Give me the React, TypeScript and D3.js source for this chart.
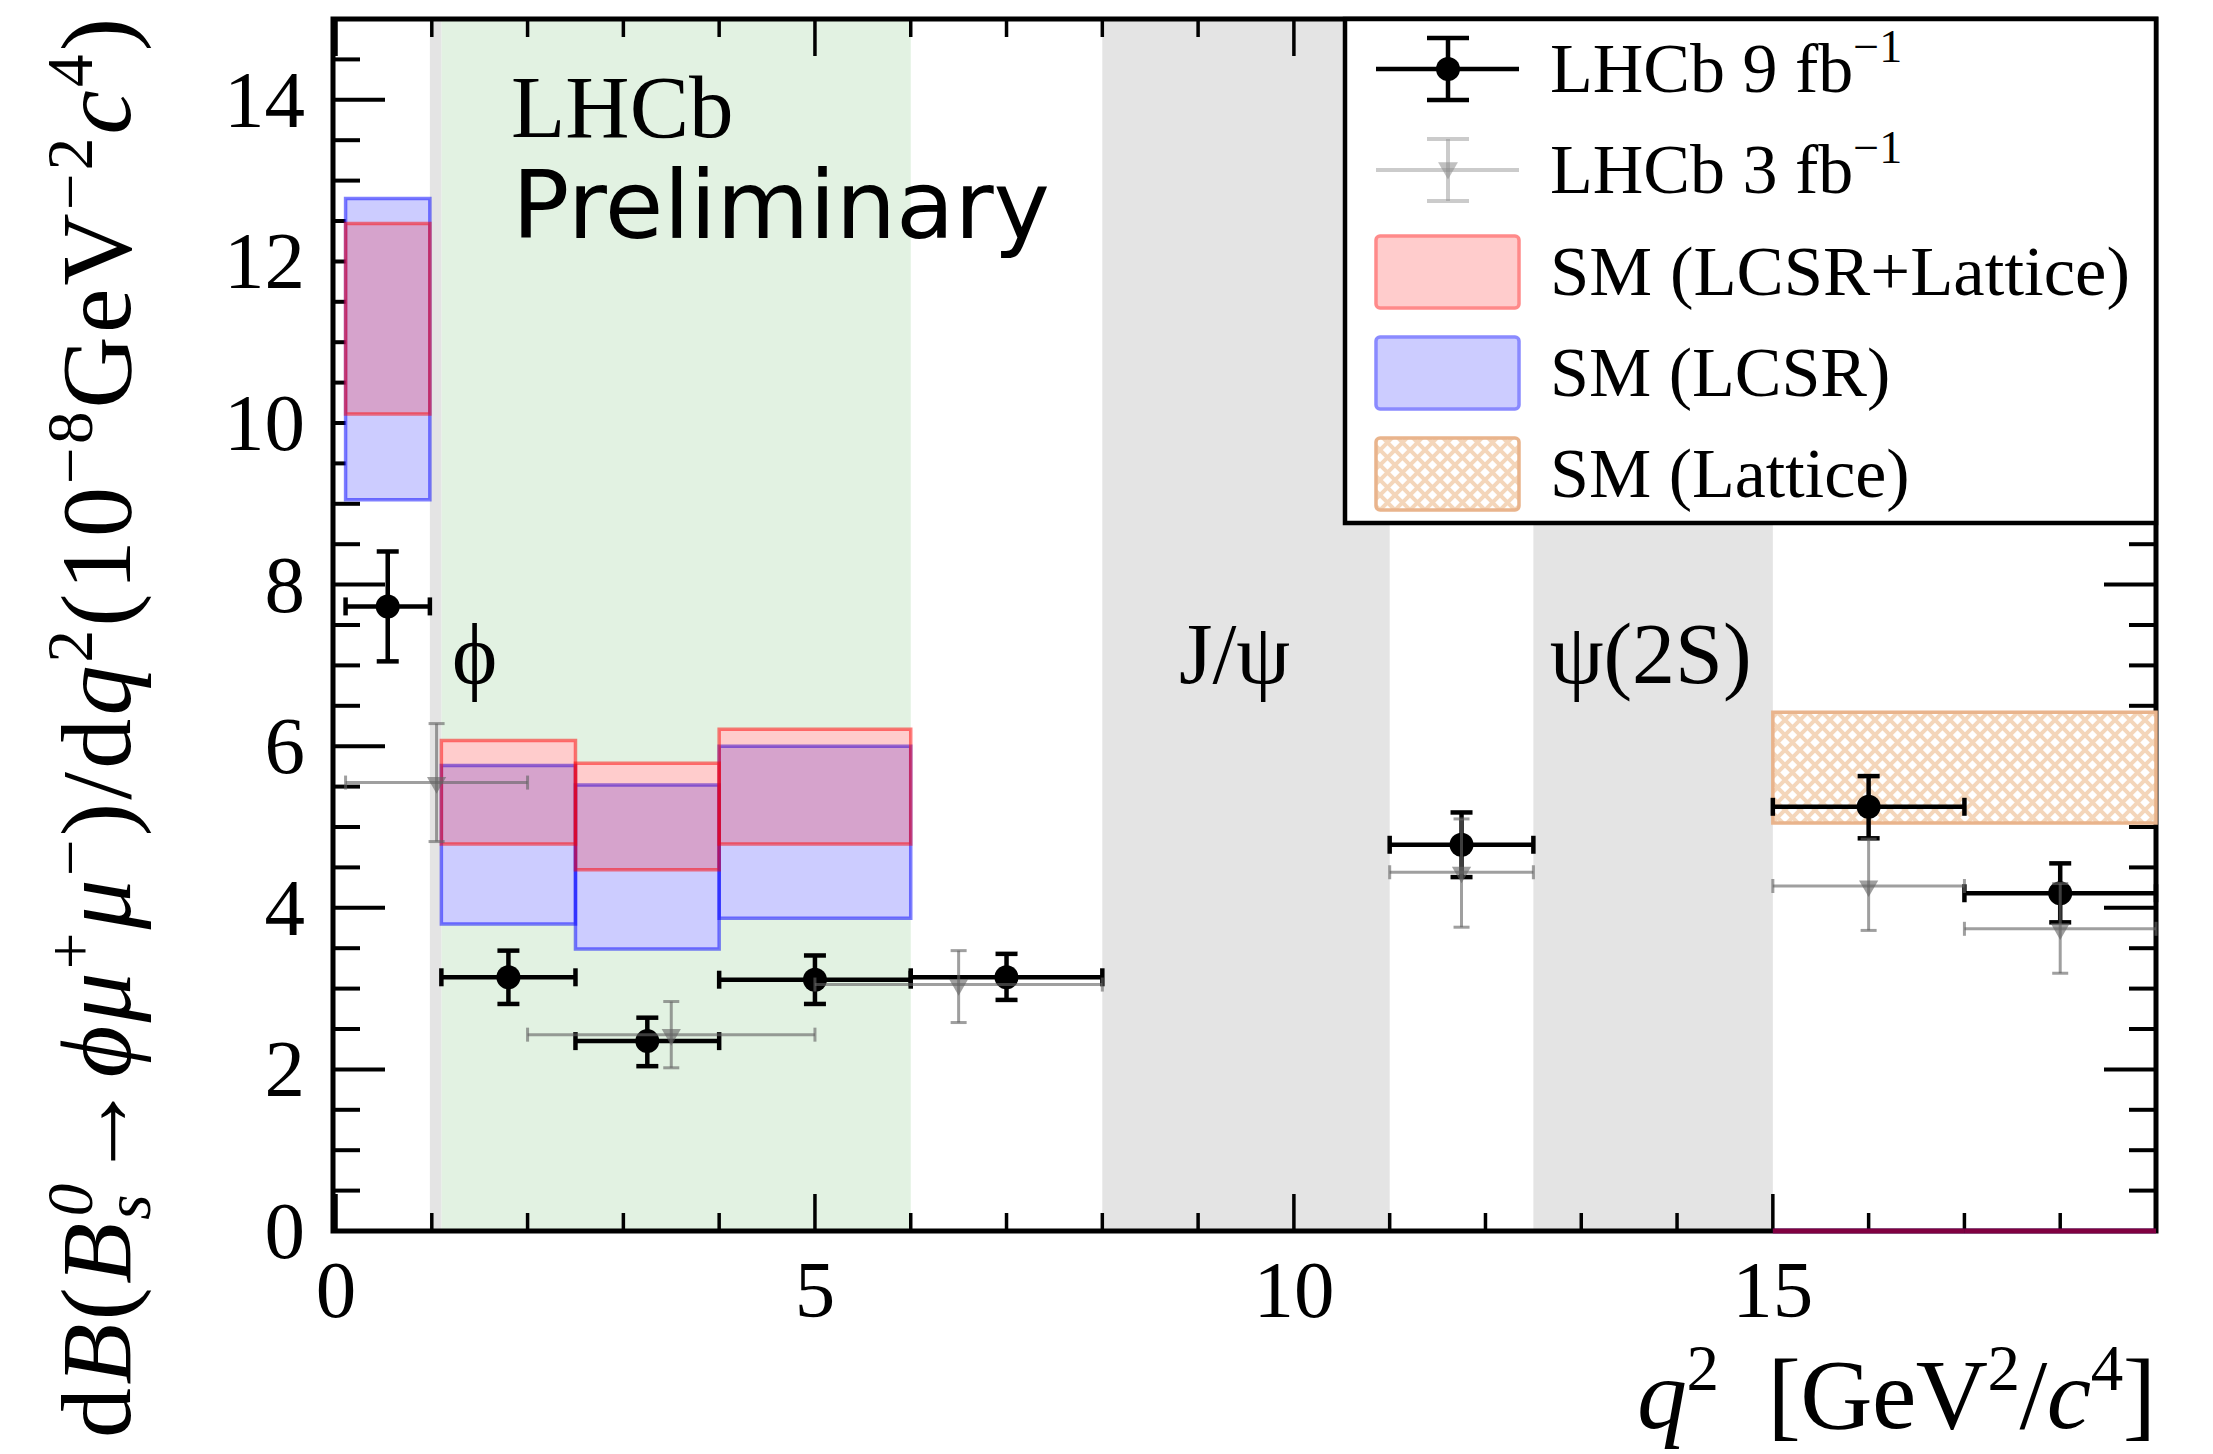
import React from "react";
import * as d3 from "d3";

const WIDTH = 2213;
const HEIGHT = 1454;

// LHCb 9 fb^-1: q2 bins and differential branching fraction (1e-8 GeV^-2 c^4)
const run2Lo = [0.1, 1.1, 2.5, 4.0, 6.0, 11.0, 15.0, 17.0];
const run2Hi = [0.98, 2.5, 4.0, 6.0, 8.0, 12.5, 17.0, 19.0];
const run2Val = [7.73, 3.14, 2.35, 3.11, 3.14, 4.78, 5.25, 4.18];
const run2Up = [8.41, 3.47, 2.64, 3.41, 3.43, 5.18, 5.63, 4.55];
const run2Down = [7.05, 2.81, 2.04, 2.81, 2.86, 4.38, 4.86, 3.82];

// LHCb 3 fb^-1
const run1Lo = [0.1, 2.0, 5.0, 11.0, 15.0, 17.0];
const run1Hi = [2.0, 5.0, 8.0, 12.5, 17.0, 19.0];
const run1Val = [5.55, 2.43, 3.05, 4.44, 4.27, 3.74];
const run1Up = [6.28, 2.84, 3.47, 5.1, 4.85, 4.3];
const run1Down = [4.82, 2.02, 2.58, 3.76, 3.72, 3.19];

// SM predictions per bin
const smLo = [0.1, 1.1, 2.5, 4.0, 15.0, 17.0];
const smHi = [0.98, 2.5, 4.0, 6.0, 17.0, 19.0];
const comboTop = [12.47, 6.07, 5.79, 6.21, 0, 0];
const comboBot = [10.11, 4.79, 4.47, 4.79, 0, 0];
const lcsrTop = [12.78, 5.76, 5.52, 6.0, 0, 0];
const lcsrBot = [9.05, 3.8, 3.49, 3.87, 0, 0];
const latticeLo = [15.0];
const latticeHi = [19.0];
const latticeTop = [6.42];
const latticeBot = [5.05];

// vetoed resonance regions and the wide low-q2 region
const vetoLo = [0.98, 8.0, 12.5];
const vetoHi = [1.1, 11.0, 15.0];
const wideLo = [1.1];
const wideHi = [6.0];
const resonanceNames = ["\u03D5", "J/\u03C8", "\u03C8(2S)"];
const resonanceAt = [1.21, 8.8, 12.67];

const yMajor = [0, 2, 4, 6, 8, 10, 12, 14];
const xMajor = [0, 5, 10, 15];

const SERIF = "'Liberation Serif', 'Times New Roman', serif";
const SANS = "'DejaVu Sans', sans-serif";

const RED_FILL = "rgba(255,0,0,0.2)";
const RED_EDGE = "rgba(255,0,0,0.5)";
const BLUE_FILL = "rgba(0,0,255,0.2)";
const BLUE_EDGE = "rgba(0,0,255,0.5)";
const GREY_PT = "rgba(100,100,100,0.62)";
const LATTICE_EDGE = "#e9b48c";

function boxPath(x0: number, x1: number, y0: number, y1: number) {
  const p = d3.path();
  p.moveTo(x0, y0);
  p.lineTo(x1, y0);
  p.lineTo(x1, y1);
  p.lineTo(x0, y1);
  p.closePath();
  return p.toString();
}

export default function App() {
  const x = d3.scaleLinear().domain([0, 19]).range([336, 2156]);
  const y = d3.scaleLinear().domain([0, 15]).range([1231, 19]);
  const X0 = x(0) - 3;
  const X1 = x(19);
  const Y0 = y(0);
  const Y1 = y(15);

  const yMinor = d3.range(0, 15.001, 0.5).filter((v) => !yMajor.includes(v));
  const xMinor = d3.range(0, 19.001, 1).filter((v) => !xMajor.includes(v));
  const triangle = d3.symbol().type(d3.symbolTriangle).size(160)()!;
  const legendTriangle = d3.symbol().type(d3.symbolTriangle).size(170)()!;

  const legendRows = [69, 170, 272, 373, 474];
  const legX = 1448;

  return (
    <svg
      width={WIDTH}
      height={HEIGHT}
      viewBox={`0 0 ${WIDTH} ${HEIGHT}`}
      style={{ position: "absolute", left: 0, top: 0, display: "block", background: "#fff" }}
    >
      <defs>
        <pattern id="latticeHatch" width={15} height={15} patternUnits="userSpaceOnUse">
          <rect width={15} height={15} fill="#fff" />
          <path d="M0,0 L15,15 M15,0 L0,15 M-7.5,7.5 L7.5,-7.5 M7.5,22.5 L22.5,7.5 M-7.5,7.5 L7.5,22.5 M7.5,-7.5 L22.5,7.5"
            stroke="#f4d6ba" strokeWidth={4} />
        </pattern>
      </defs>

      {/* shaded q2 regions */}
      {wideLo.map((lo, i) => (
        <rect key={"w" + i} x={x(lo)} y={Y1} width={x(wideHi[i]) - x(lo)} height={Y0 - Y1} fill="#e2f2e2" />
      ))}
      {vetoLo.map((lo, i) => (
        <rect key={"v" + i} x={x(lo)} y={Y1} width={x(vetoHi[i]) - x(lo)} height={Y0 - Y1} fill="#e4e4e4" />
      ))}

      {/* frame and ticks */}
      <g stroke="#000" fill="none">
        <rect x={X0} y={Y1} width={X1 - X0} height={Y0 - Y1} strokeWidth={5} />
        {yMajor.map((v) => (
          <g key={"ym" + v} strokeWidth={4}>
            <line x1={X0} x2={X0 + 52} y1={y(v)} y2={y(v)} />
            <line x1={X1} x2={X1 - 52} y1={y(v)} y2={y(v)} />
          </g>
        ))}
        {yMinor.map((v) => (
          <g key={"yn" + v} strokeWidth={4}>
            <line x1={X0} x2={X0 + 27} y1={y(v)} y2={y(v)} />
            <line x1={X1} x2={X1 - 27} y1={y(v)} y2={y(v)} />
          </g>
        ))}
        {xMajor.map((v) => (
          <g key={"xm" + v} strokeWidth={3.5}>
            <line x1={x(v)} x2={x(v)} y1={Y0} y2={Y0 - 37} />
            <line x1={x(v)} x2={x(v)} y1={Y1} y2={Y1 + 37} />
          </g>
        ))}
        {xMinor.map((v) => (
          <g key={"xn" + v} strokeWidth={3.5}>
            <line x1={x(v)} x2={x(v)} y1={Y0} y2={Y0 - 18} />
            <line x1={x(v)} x2={x(v)} y1={Y1} y2={Y1 + 18} />
          </g>
        ))}
      </g>

      {/* tick labels */}
      <g fontFamily={SERIF} fontSize={81} fill="#000">
        {yMajor.map((v) => (
          <text key={"yl" + v} x={305} y={y(v) + 27} textAnchor="end">{v}</text>
        ))}
        {xMajor.map((v) => (
          <text key={"xl" + v} x={x(v)} y={Y0 + 86} textAnchor="middle">{v}</text>
        ))}
      </g>

      {/* SM predictions: opaque white underlay keeps the band colours independent of the shading */}
      {smLo.map((lo, i) =>
        lcsrTop[i] > lcsrBot[i] ? (
          <path key={"u" + i}
            d={boxPath(x(lo), x(smHi[i]), y(Math.max(lcsrTop[i], comboTop[i])), y(Math.min(lcsrBot[i], comboBot[i])))}
            fill="#fff" stroke="none" />
        ) : null
      )}
      {smLo.map((lo, i) => (
        <path key={"b" + i} d={boxPath(x(lo), x(smHi[i]), y(lcsrTop[i]), y(lcsrBot[i]))}
          fill={BLUE_FILL} stroke={BLUE_EDGE} strokeWidth={lcsrTop[i] === lcsrBot[i] ? 5 : 3.5} />
      ))}
      {smLo.map((lo, i) => (
        <path key={"r" + i} d={boxPath(x(lo), x(smHi[i]), y(comboTop[i]), y(comboBot[i]))}
          fill={RED_FILL} stroke={RED_EDGE} strokeWidth={comboTop[i] === comboBot[i] ? 5 : 3.5} />
      ))}
      {latticeLo.map((lo, i) => (
        <path key={"l" + i} d={boxPath(x(lo), x(latticeHi[i]), y(latticeTop[i]), y(latticeBot[i]))}
          fill="url(#latticeHatch)" stroke={LATTICE_EDGE} strokeWidth={3.5} />
      ))}

      {/* LHCb 9 fb^-1 */}
      <g stroke="#000" strokeWidth={4.5}>
        {run2Lo.map((lo, i) => {
          const cx = x((lo + run2Hi[i]) / 2);
          const cy = y(run2Val[i]);
          return (
            <g key={"p2" + i}>
              <line x1={x(lo)} x2={x(run2Hi[i])} y1={cy} y2={cy} />
              <line x1={x(lo)} x2={x(lo)} y1={cy - 9} y2={cy + 9} />
              <line x1={x(run2Hi[i])} x2={x(run2Hi[i])} y1={cy - 9} y2={cy + 9} />
              <line x1={cx} x2={cx} y1={y(run2Up[i])} y2={y(run2Down[i])} />
              <line x1={cx - 11} x2={cx + 11} y1={y(run2Up[i])} y2={y(run2Up[i])} />
              <line x1={cx - 11} x2={cx + 11} y1={y(run2Down[i])} y2={y(run2Down[i])} />
              <circle cx={cx} cy={cy} r={12} fill="#000" stroke="none" />
            </g>
          );
        })}
      </g>

      {/* LHCb 3 fb^-1 */}
      <g stroke={GREY_PT} strokeWidth={3}>
        {run1Lo.map((lo, i) => {
          const cx = x((lo + run1Hi[i]) / 2);
          const cy = y(run1Val[i]);
          return (
            <g key={"p1" + i}>
              <line x1={x(lo)} x2={x(run1Hi[i])} y1={cy} y2={cy} />
              <line x1={x(lo)} x2={x(lo)} y1={cy - 7} y2={cy + 7} />
              <line x1={x(run1Hi[i])} x2={x(run1Hi[i])} y1={cy - 7} y2={cy + 7} />
              <line x1={cx} x2={cx} y1={y(run1Up[i])} y2={y(run1Down[i])} />
              <line x1={cx - 8} x2={cx + 8} y1={y(run1Up[i])} y2={y(run1Up[i])} />
              <line x1={cx - 8} x2={cx + 8} y1={y(run1Down[i])} y2={y(run1Down[i])} />
              <path d={triangle} transform={`translate(${cx},${cy}) rotate(180)`} fill={GREY_PT} stroke="none" />
            </g>
          );
        })}
      </g>

      {/* resonance labels */}
      <g fontFamily={SERIF} fontSize={86} fill="#000">
        {resonanceNames.map((n, i) => (
          <text key={"rn" + i} x={x(resonanceAt[i])} y={683}>{n}</text>
        ))}
      </g>

      {/* experiment label */}
      <text x={511} y={137} fontFamily={SERIF} fontSize={89}>LHCb</text>
      <text x={512} y={238} fontFamily={SANS} fontSize={95} textLength={538} lengthAdjust="spacingAndGlyphs">Preliminary</text>

      {/* axis titles */}
      <text x={X1} y={1428} textAnchor="end" fontFamily={SERIF} fontSize={100} textLength={519} lengthAdjust="spacing">
        <tspan fontStyle="italic">q</tspan>
        <tspan fontSize={65} dy={-38}>2</tspan>
        <tspan dy={38}>{"\u00A0\u00A0[GeV"}</tspan>
        <tspan fontSize={65} dy={-38}>2</tspan>
        <tspan dy={38}>/</tspan>
        <tspan fontStyle="italic">c</tspan>
        <tspan fontSize={65} dy={-38}>4</tspan>
        <tspan dy={38}>]</tspan>
      </text>
      <text transform="translate(130,18) rotate(-90)" textAnchor="end" fontFamily={SERIF} fontSize={100}
        textLength={1420} lengthAdjust="spacing">
        <tspan>d</tspan>
        <tspan fontStyle="italic">B</tspan>
        <tspan>(</tspan>
        <tspan fontStyle="italic">B</tspan>
        <tspan fontStyle="italic" fontSize={65} dy={20}>s</tspan>
        <tspan fontStyle="italic" fontSize={65} dx={-25} dy={-58}>0</tspan>
        <tspan dy={38}>{"\u2192"}</tspan>
        <tspan fontStyle="italic">{"\u03D5\u03BC"}</tspan>
        <tspan fontSize={65} dy={-38}>+</tspan>
        <tspan fontStyle="italic" dy={38}>{"\u03BC"}</tspan>
        <tspan fontSize={65} dy={-38}>{"\u2212"}</tspan>
        <tspan dy={38}>)/d</tspan>
        <tspan fontStyle="italic">q</tspan>
        <tspan fontSize={65} dy={-38}>2</tspan>
        <tspan dy={38}>(10</tspan>
        <tspan fontSize={65} dy={-38}>{"\u22128"}</tspan>
        <tspan dy={38}>GeV</tspan>
        <tspan fontSize={65} dy={-38}>{"\u22122"}</tspan>
        <tspan fontStyle="italic" dy={38}>c</tspan>
        <tspan fontSize={65} dy={-38}>4</tspan>
        <tspan dy={38}>)</tspan>
      </text>

      {/* legend */}
      <g>
        <rect x={1345} y={Y1} width={X1 - 1345} height={523 - Y1} fill="#fff" stroke="#000" strokeWidth={4.5} />
        <g stroke="#000" strokeWidth={4.5}>
          <line x1={1376} x2={1519} y1={legendRows[0]} y2={legendRows[0]} />
          <line x1={legX} x2={legX} y1={legendRows[0] - 31} y2={legendRows[0] + 31} />
          <line x1={legX - 21} x2={legX + 21} y1={legendRows[0] - 31} y2={legendRows[0] - 31} />
          <line x1={legX - 21} x2={legX + 21} y1={legendRows[0] + 31} y2={legendRows[0] + 31} />
          <circle cx={legX} cy={legendRows[0]} r={12} fill="#000" stroke="none" />
        </g>
        <g stroke="rgba(140,140,140,0.45)" strokeWidth={4}>
          <line x1={1376} x2={1519} y1={legendRows[1]} y2={legendRows[1]} />
          <line x1={legX} x2={legX} y1={legendRows[1] - 31} y2={legendRows[1] + 31} />
          <line x1={legX - 21} x2={legX + 21} y1={legendRows[1] - 31} y2={legendRows[1] - 31} />
          <line x1={legX - 21} x2={legX + 21} y1={legendRows[1] + 31} y2={legendRows[1] + 31} />
          <path d={legendTriangle} transform={`translate(${legX},${legendRows[1] - 2}) rotate(180)`}
            fill="rgba(140,140,140,0.55)" stroke="none" />
        </g>
        <rect x={1376} y={legendRows[2] - 36} width={143} height={72} rx={4} fill="#ffcccc" stroke="#ff8a8a" strokeWidth={3.5} />
        <rect x={1376} y={legendRows[3] - 36} width={143} height={72} rx={4} fill="#ccccff" stroke="#8a8aff" strokeWidth={3.5} />
        <rect x={1376} y={legendRows[4] - 36} width={143} height={72} rx={4} fill="url(#latticeHatch)" stroke={LATTICE_EDGE} strokeWidth={3.5} />
        <g fontFamily={SERIF} fontSize={70} fill="#000">
          <text x={1550} y={legendRows[0] + 23}>
            LHCb 9 fb<tspan fontSize={46} dy={-30}>{"\u22121"}</tspan>
          </text>
          <text x={1550} y={legendRows[1] + 23}>
            LHCb 3 fb<tspan fontSize={46} dy={-30}>{"\u22121"}</tspan>
          </text>
          <text x={1550} y={legendRows[2] + 23} textLength={580} lengthAdjust="spacingAndGlyphs">SM (LCSR+Lattice)</text>
          <text x={1550} y={legendRows[3] + 23}>SM (LCSR)</text>
          <text x={1550} y={legendRows[4] + 23}>SM (Lattice)</text>
        </g>
      </g>
    </svg>
  );
}
